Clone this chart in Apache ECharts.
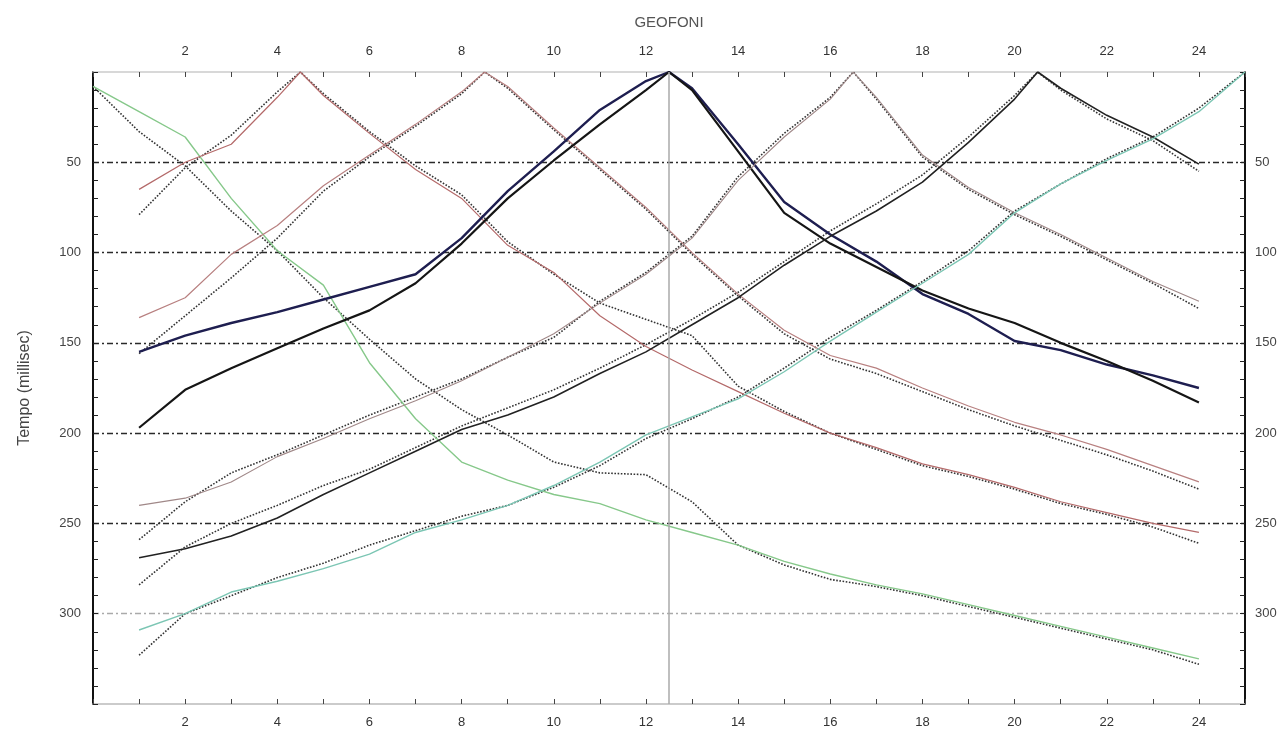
<!DOCTYPE html>
<html>
<head>
<meta charset="utf-8">
<script src="https://cdn.jsdelivr.net/npm/echarts@6/dist/echarts.min.js"></script>
<style>
  html, body { margin: 0; padding: 0; background: #fff; }
  #chart { width: 1287px; height: 738px; }
</style>
</head>
<body>
<div id="chart"></div>
<script>
// geofoni e punti di scoppio
const geofoni = [1, 2, 3, 4, 5, 6, 7, 8, 9, 10, 11, 12, 13, 14, 15, 16, 17, 18, 19, 20, 21, 22, 23, 24]
const scoppi = [0, 4.5, 8.5, 12.5, 16.5, 20.5, 25]
const tempoScoppio = [8, 0, 0, 0, 0, 0, 0]

// tempi (ms) per geofono 1..24
const calcS1 = [22, 36, 70, 99, 118, 161, 192, 216, 226, 234, 239, 248, 255, 262, 271, 278, 284, 289, 295, 301, 307, 313, 319, 325]
const ossS1 = [33, 52, 77, 99, 125, 148, 170, 187, 201, 216, 222, 223, 238, 262, 273, 281, 285, 290, 296, 302, 308, 314, 320, 328]

const calcS2 = [65, 50, 40, 14, 13, 34, 54, 70, 96, 111, 135, 152, 165, 177, 189, 200, 208, 217, 223, 230, 238, 244, 250, 255]
const ossS2 = [79, 53, 35, 11, 12, 33, 52, 68, 94, 112, 128, 137, 146, 174, 188, 200, 209, 218, 224, 231, 239, 245, 252, 261]

const calcS3 = [136, 125, 101, 85, 63, 46, 29, 11, 8, 31, 53, 75, 100, 123, 143, 157, 164, 175, 185, 194, 201, 209, 218, 227]
const ossS3 = [156, 135, 114, 92, 66, 47, 30, 12, 9, 32, 54, 76, 101, 124, 145, 159, 167, 177, 187, 196, 204, 212, 221, 231]

const calcS4a = [155, 146, 139, 133, 126, 119, 112, 92, 66, 44, 21, 5, 9, 40, 72, 90, 105, 123, 134, 149, 154, 162, 168, 175]
const calcS4b = [197, 176, 164, 153, 142, 132, 117, 95, 70, 49, 29, 10, 10, 44, 78, 95, 108, 121, 131, 139, 150, 160, 171, 183]

const calcS5 = [240, 236, 227, 213, 203, 192, 182, 171, 158, 145, 128, 112, 92, 60, 36, 15, 14, 46, 64, 78, 90, 103, 116, 127]
const ossS5 = [259, 238, 222, 212, 201, 190, 180, 170, 158, 147, 127, 111, 91, 58, 34, 14, 15, 47, 65, 79, 91, 104, 117, 131]

const calcS6 = [269, 264, 257, 247, 234, 222, 210, 198, 190, 180, 167, 155, 140, 125, 107, 91, 77, 61, 39, 15, 9, 24, 36, 51]
const ossS6 = [284, 263, 250, 240, 229, 220, 208, 196, 186, 176, 164, 151, 137, 122, 105, 88, 73, 57, 36, 13, 10, 26, 38, 55]

const calcS7 = [309, 300, 288, 282, 275, 267, 255, 248, 240, 229, 216, 201, 191, 181, 166, 149, 133, 117, 101, 78, 62, 49, 37, 22]
const ossS7 = [323, 300, 290, 280, 272, 262, 254, 246, 240, 230, 218, 203, 192, 180, 164, 147, 132, 116, 99, 77, 62, 48, 36, 20]

const yTicks = [50, 100, 150, 200, 250, 300]

function curva(s, vals) {
  const pts = geofoni.map((g, i) => [g, vals[i]])
  pts.push([scoppi[s], tempoScoppio[s]])
  pts.sort((a, b) => a[0] - b[0])
  return pts
}

function linea(data, color, width, type) {
  return {
    type: 'line',
    data: data,
    showSymbol: false,
    silent: true,
    lineStyle: { color: color, width: width, type: type || 'solid' },
    z: type ? 3 : 4
  }
}

// colore della griglia per ogni tacca da 10 ms (0..350)
const gridColors = []
for (let v = 0; v <= 350; v += 10) {
  if (v === 300) gridColors.push('#aaa')
  else if (v % 50 === 0 && v > 0 && v < 350) gridColors.push('#2a2a2a')
  else gridColors.push('rgba(0,0,0,0)')
}

const font = 'Liberation Sans, Arial, sans-serif'
const chart = echarts.init(document.getElementById('chart'))

const xBase = {
  type: 'value',
  min: 0,
  max: 25,
  interval: 1,
  axisTick: { show: true, inside: true, length: 5, lineStyle: { color: '#444' } },
  axisLabel: {
    color: '#333',
    fontSize: 13,
    fontFamily: font,
    formatter: (v) => (v % 2 === 0 && v > 0 && v < 25 ? String(v) : '')
  },
  splitLine: { show: false }
}

const yBase = {
  type: 'value',
  inverse: true,
  min: 0,
  max: 350,
  interval: 10,
  axisTick: { show: true, inside: true, length: 5, lineStyle: { color: '#222' } },
  axisLabel: {
    color: '#444',
    fontSize: 13,
    fontFamily: font,
    formatter: (v) => (yTicks.includes(v) ? String(v) : '')
  }
}

const option = {
  animation: false,
  backgroundColor: '#fff',
  grid: { left: 93, right: 42, top: 72, bottom: 34 },
  xAxis: [
    Object.assign({}, xBase, {
      position: 'bottom',
      axisLine: { show: true, onZero: false, lineStyle: { color: '#bbb', width: 1.5 } },
      axisLabel: Object.assign({}, xBase.axisLabel, { margin: 12 })
    }),
    Object.assign({}, xBase, {
      position: 'top',
      name: 'GEOFONI',
      nameLocation: 'middle',
      nameGap: 42,
      nameTextStyle: { color: '#555', fontSize: 15, fontFamily: font },
      axisLine: { show: true, onZero: false, lineStyle: { color: '#ccc', width: 1.5 } },
      axisLabel: Object.assign({}, xBase.axisLabel, { margin: 14 })
    })
  ],
  yAxis: [
    Object.assign({}, yBase, {
      position: 'left',
      name: 'Tempo (millisec)',
      nameLocation: 'middle',
      nameGap: 60,
      nameTextStyle: { color: '#444', fontSize: 16, fontFamily: font },
      axisLine: { show: true, onZero: false, lineStyle: { color: '#111', width: 2 } },
      axisLabel: Object.assign({}, yBase.axisLabel, { margin: 12 }),
      splitLine: {
        show: true,
        lineStyle: { color: gridColors, width: 1.3, type: [6, 3, 2, 3] }
      }
    }),
    Object.assign({}, yBase, {
      position: 'right',
      axisLine: { show: true, onZero: false, lineStyle: { color: '#111', width: 2 } },
      axisLabel: Object.assign({}, yBase.axisLabel, { margin: 10 }),
      splitLine: { show: false }
    })
  ],
  series: [
    // scoppio 0
    linea(curva(0, calcS1), '#86c88a', 1.4),
    linea(curva(0, ossS1), '#333', 1.6, 'dotted'),
    // scoppio 4.5
    linea(curva(1, calcS2), '#b46a6a', 1.2),
    linea(curva(1, ossS2), '#333', 1.6, 'dotted'),
    // scoppio 8.5
    linea(curva(2, calcS3), '#b88080', 1.2),
    linea(curva(2, ossS3), '#333', 1.6, 'dotted'),
    // scoppio 12.5
    Object.assign(linea(curva(3, calcS4a), '#1e1e50', 2.4), {
      markLine: {
        silent: true,
        symbol: 'none',
        label: { show: false },
        lineStyle: { color: '#aaa', width: 1.5, type: 'solid' },
        data: [{ xAxis: scoppi[3] }]
      }
    }),
    linea(curva(3, calcS4b), '#151515', 2.2),
    // scoppio 16.5
    linea(curva(4, calcS5), '#a08888', 1.1),
    linea(curva(4, ossS5), '#333', 1.6, 'dotted'),
    // scoppio 20.5
    linea(curva(5, calcS6), '#222', 1.6),
    linea(curva(5, ossS6), '#333', 1.6, 'dotted'),
    // scoppio 25
    linea(curva(6, calcS7), '#7cc6b4', 1.4),
    linea(curva(6, ossS7), '#333', 1.6, 'dotted')
  ]
}

chart.setOption(option)
</script>
</body>
</html>
